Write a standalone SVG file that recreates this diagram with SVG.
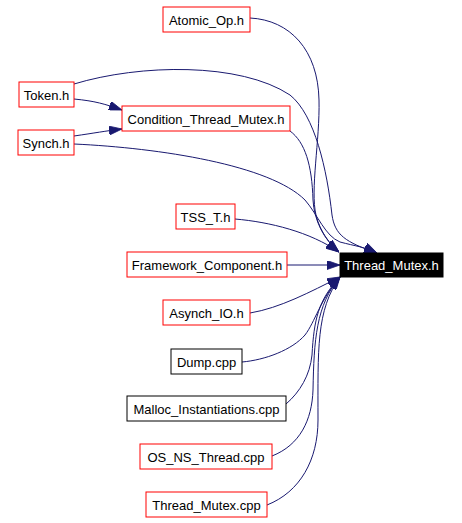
<svg xmlns="http://www.w3.org/2000/svg" width="462" height="523" viewBox="0 0 462 523">
<style>
.n rect{fill:#ffffff;stroke:#ff0000;stroke-width:1}
.n.b rect{stroke:#000000}
.n.t rect{fill:#000000;stroke:#000000}
.n text{font-family:"Liberation Sans",Arial,sans-serif;font-size:13px;fill:#000000;text-anchor:middle}
.n.t text{fill:#ffffff}
#edges path{fill:none;stroke:#191970;stroke-width:1;marker-end:url(#arr)}
</style>
<defs>
<marker id="arr" markerUnits="userSpaceOnUse" viewBox="0 0 13 9" markerWidth="13" markerHeight="9" refX="13" refY="4.5" orient="auto">
<path d="M0,0 L13,4.5 L0,9 z" fill="#191970" stroke="#191970" stroke-width="0.8"/>
</marker>
</defs>
<rect width="462" height="523" fill="#ffffff"/>
<g id="edges">
<path d="M250,18 C290,20 318,50 319,100 C320,140 310,190 316,215 C320,232 330,244 339,252"/>
<path d="M74,84 C140,64 240,62 290,95 C315,115 327,170 332,215 C335,235 345,242 377,253"/>
<path d="M74,99 C95,101 105,104 122,110"/>
<path d="M74,136 C95,133 105,131 122,129"/>
<path d="M290,131 C305,142 312,165 313,200 C314,220 324,240 339,252"/>
<path d="M74,144 C160,148 270,165 305,200 C318,215 325,236 340,242 C355,246 365,247 377,253"/>
<path d="M235,219 C270,222 310,232 339,252"/>
<path d="M287,265 L340,265"/>
<path d="M250,313 C280,308 310,292 340,277"/>
<path d="M242,362 C265,360 292,350 305,335 C315,322 320,300 340,277"/>
<path d="M286,404 C300,392 310,375 312,355 C314,320 318,300 340,277"/>
<path d="M272,456 C300,445 312,420 313,390 C314,340 316,305 340,277"/>
<path d="M267,505 C300,492 318,460 318,420 C318,350 316,310 340,277"/>
</g>
<g id="n_atomic" class="n"><rect x="163" y="7" width="87" height="25"/><text x="206.5" y="24.5">Atomic_Op.h</text></g>
<g id="n_token" class="n"><rect x="19" y="82" width="55" height="25"/><text x="46.5" y="99.5">Token.h</text></g>
<g id="n_cond" class="n"><rect x="122" y="106" width="168" height="25"/><text x="206" y="123.5">Condition_Thread_Mutex.h</text></g>
<g id="n_synch" class="n"><rect x="18" y="130" width="56" height="25"/><text x="46" y="147.5">Synch.h</text></g>
<g id="n_tss" class="n"><rect x="176" y="204" width="59" height="25"/><text x="205.5" y="221.5">TSS_T.h</text></g>
<g id="n_fw" class="n"><rect x="127" y="252" width="160" height="25"/><text x="207" y="269.5">Framework_Component.h</text></g>
<g id="n_tm" class="n t"><rect x="340" y="253" width="103" height="24"/><text x="391.5" y="270">Thread_Mutex.h</text></g>
<g id="n_asynch" class="n"><rect x="163" y="300" width="87" height="25"/><text x="206.5" y="317.5">Asynch_IO.h</text></g>
<g id="n_dump" class="n b"><rect x="171" y="349" width="71" height="25"/><text x="206.5" y="366.5">Dump.cpp</text></g>
<g id="n_malloc" class="n b"><rect x="127" y="396" width="159" height="25"/><text x="206.5" y="413.5">Malloc_Instantiations.cpp</text></g>
<g id="n_osns" class="n"><rect x="140" y="444" width="132" height="25"/><text x="206" y="461.5">OS_NS_Thread.cpp</text></g>
<g id="n_tmcpp" class="n"><rect x="146" y="492" width="121" height="25"/><text x="206.5" y="509.5">Thread_Mutex.cpp</text></g>
</svg>
